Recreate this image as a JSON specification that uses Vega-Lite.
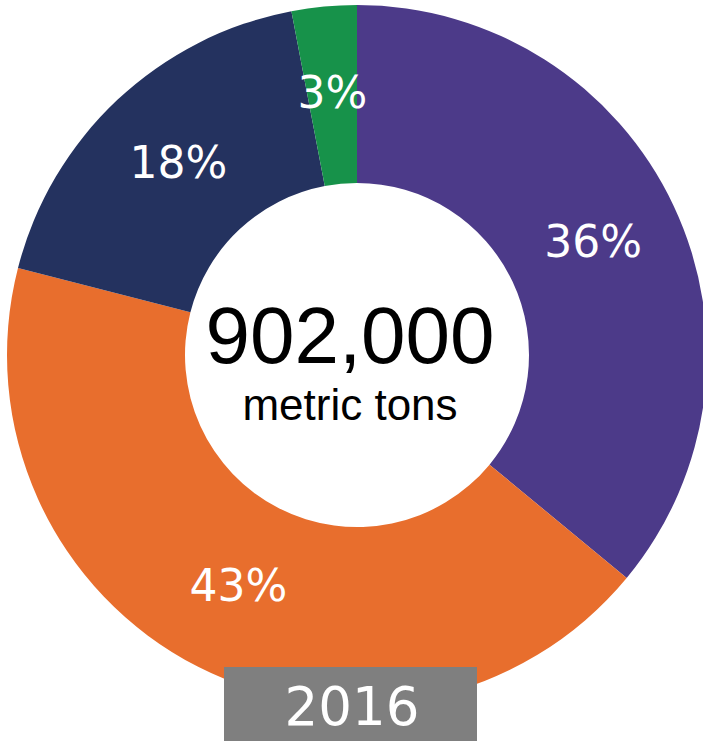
{
  "$schema": "https://vega.github.io/schema/vega-lite/v6.json",
  "autosize": "none",
  "padding": {"top": 0, "left": 0, "right": 0, "bottom": 31},
  "width": 714,
  "height": 710,
  "background": "white",
  "config": {"view": {"stroke": null}},
  "datasets": {
    "shares": [
      {"category": "Category 1", "pct": 36, "label": "36%"},
      {"category": "Category 2", "pct": 43, "label": "43%"},
      {"category": "Category 3", "pct": 18, "label": "18%"},
      {"category": "Category 4", "pct": 3, "label": "3%"}
    ],
    "center": [{"total": "902,000", "unit": "metric tons", "year": "2016"}]
  },
  "layer": [
    {
      "data": {"name": "shares"},
      "mark": {"type": "arc", "outerRadius": 350, "innerRadius": 172},
      "encoding": {
        "theta": {"field": "pct", "type": "quantitative", "stack": true},
        "order": {"field": "category", "type": "nominal"},
        "color": {
          "field": "category",
          "type": "nominal",
          "scale": {
            "domain": ["Category 1", "Category 2", "Category 3", "Category 4"],
            "range": ["#4c3a89", "#e86e2d", "#24325f", "#17924a"]
          },
          "legend": null
        }
      }
    },
    {
      "data": {"name": "shares"},
      "mark": {"type": "text", "radius": 261, "font": "DejaVu Sans", "fontSize": 44, "fill": "white", "align": "center", "baseline": "middle"},
      "encoding": {
        "theta": {"field": "pct", "type": "quantitative", "stack": true},
        "order": {"field": "category", "type": "nominal"},
        "detail": {"field": "category", "type": "nominal"},
        "text": {"field": "label", "type": "nominal"}
      }
    },
    {
      "data": {"name": "center"},
      "mark": {"type": "text", "font": "Liberation Sans", "fontSize": 80, "fill": "black", "align": "center", "baseline": "alphabetic", "dx": -7, "dy": 8},
      "encoding": {"text": {"field": "total", "type": "nominal"}}
    },
    {
      "data": {"name": "center"},
      "mark": {"type": "text", "font": "Liberation Sans", "fontSize": 44, "fill": "black", "align": "center", "baseline": "alphabetic", "dx": -7, "dy": 65},
      "encoding": {"text": {"field": "unit", "type": "nominal"}}
    },
    {
      "data": {"name": "center"},
      "mark": {"type": "rect", "fill": "#7f7f7f", "x": {"expr": "width/2 - 133"}, "x2": {"expr": "width/2 + 120"}, "y": {"expr": "height/2 + 312"}, "y2": {"expr": "height/2 + 400"}},
      "encoding": {}
    },
    {
      "data": {"name": "center"},
      "mark": {"type": "text", "font": "DejaVu Sans", "fontSize": 53, "fill": "white", "align": "center", "baseline": "alphabetic", "dx": -5, "dy": 370},
      "encoding": {"text": {"field": "year", "type": "nominal"}}
    }
  ]
}
